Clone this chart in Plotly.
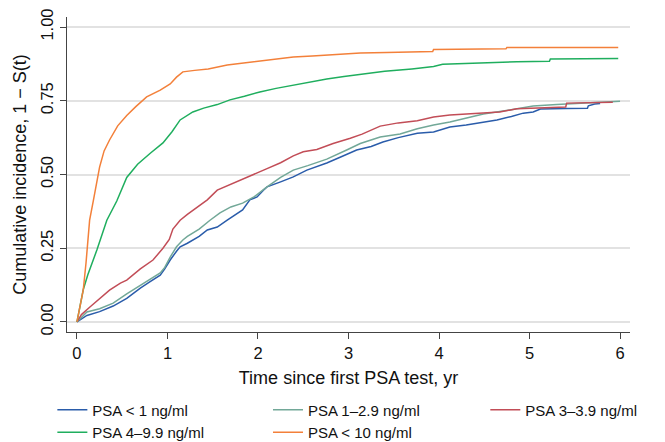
import plotly.graph_objects as go

# ---------------- data ----------------
names = ["PSA < 1 ng/ml", "PSA 1\u20132.9 ng/ml", "PSA 3\u20133.9 ng/ml",
         "PSA 4\u20139.9 ng/ml", "PSA < 10 ng/ml"]
colors = ["#2a5caa", "#72a898", "#c24d57", "#1fae5e", "#f3803a"]
legend_ids = ["legend", "legend2", "legend3", "legend", "legend2"]

t_lt1 = [0, 0.11, 0.25, 0.40, 0.55, 0.70, 0.80, 0.92, 0.97, 1.03,
         1.10, 1.14, 1.22, 1.35, 1.44, 1.55, 1.66, 1.76, 1.83, 1.91,
         1.99, 2.06, 2.10, 2.25, 2.39, 2.54, 2.76, 2.92, 3.09, 3.25,
         3.38, 3.55, 3.76, 3.94, 4.12, 4.30, 4.49, 4.64, 4.80, 4.93,
         5.04, 5.12, 5.40, 5.64, 5.65, 5.72, 5.78]
v_lt1 = [0, 0.022, 0.035, 0.054, 0.08, 0.115, 0.135, 0.159, 0.18, 0.21,
         0.24, 0.255, 0.267, 0.29, 0.312, 0.322, 0.345, 0.365, 0.38, 0.414,
         0.424, 0.447, 0.458, 0.475, 0.492, 0.515, 0.539, 0.56, 0.583, 0.595,
         0.61, 0.625, 0.64, 0.644, 0.661, 0.668, 0.678, 0.685, 0.697, 0.708,
         0.712, 0.722, 0.724, 0.725, 0.733, 0.739, 0.741]

t_1_29 = [0, 0.11, 0.25, 0.40, 0.55, 0.70, 0.80, 0.92, 0.97, 1.03,
          1.10, 1.17, 1.22, 1.35, 1.47, 1.58, 1.70, 1.83, 1.96, 2.10,
          2.25, 2.39, 2.55, 2.76, 2.98, 3.13, 3.35, 3.57, 3.76, 3.94,
          4.12, 4.30, 4.49, 4.78, 5.04, 5.30, 5.59, 6.00]
v_1_29 = [0, 0.034, 0.045, 0.064, 0.095, 0.125, 0.145, 0.166, 0.185, 0.22,
          0.255, 0.278, 0.29, 0.315, 0.345, 0.37, 0.39, 0.403, 0.425, 0.458,
          0.49, 0.515, 0.53, 0.552, 0.583, 0.605, 0.627, 0.637, 0.655, 0.668,
          0.678, 0.692, 0.705, 0.719, 0.732, 0.737, 0.741, 0.748]

t_3_39 = [0, 0.05, 0.14, 0.25, 0.36, 0.48, 0.55, 0.70, 0.84, 0.95,
          1.02, 1.06, 1.14, 1.22, 1.35, 1.44, 1.55, 1.68, 1.80, 1.95,
          2.10, 2.25, 2.39, 2.50, 2.65, 2.83, 3.02, 3.15, 3.35, 3.55,
          3.76, 3.94, 4.12, 4.40, 4.67, 4.86, 5.08, 5.40, 5.41, 5.92]
v_3_39 = [0, 0.025, 0.05, 0.08, 0.108, 0.132, 0.142, 0.18, 0.21, 0.25,
          0.28, 0.315, 0.345, 0.365, 0.395, 0.414, 0.447, 0.465, 0.48, 0.50,
          0.52, 0.54, 0.563, 0.577, 0.585, 0.605, 0.623, 0.637, 0.664, 0.675,
          0.682, 0.695, 0.702, 0.707, 0.712, 0.723, 0.726, 0.729, 0.742, 0.745]

t_4_99 = [0, 0.04, 0.07, 0.12, 0.22, 0.33, 0.44, 0.55, 0.67, 0.81,
          0.95, 1.05, 1.14, 1.28, 1.40, 1.55, 1.69, 1.85, 2.02, 2.20,
          2.39, 2.55, 2.76, 2.95, 3.13, 3.40, 3.70, 3.94, 4.04, 4.40,
          4.86, 5.22, 5.23, 5.98]
v_4_99 = [0, 0.06, 0.11, 0.16, 0.244, 0.345, 0.41, 0.49, 0.535, 0.572,
          0.607, 0.645, 0.685, 0.712, 0.725, 0.737, 0.753, 0.765, 0.78, 0.792,
          0.803, 0.813, 0.824, 0.832, 0.84, 0.85, 0.858, 0.866, 0.874, 0.878,
          0.882, 0.884, 0.892, 0.893]

t_ge10 = [0, 0.04, 0.07, 0.10, 0.12, 0.14, 0.18, 0.25, 0.30, 0.36,
          0.45, 0.55, 0.65, 0.77, 0.92, 1.03, 1.10, 1.17, 1.30, 1.45,
          1.66, 1.85, 2.02, 2.20, 2.39, 2.60, 2.83, 3.13, 3.42, 3.70,
          3.93, 3.94, 4.30, 4.74, 4.75, 5.20, 5.98]
v_ge10 = [0, 0.06, 0.11, 0.20, 0.28, 0.345, 0.41, 0.525, 0.58, 0.617,
          0.665, 0.70, 0.73, 0.763, 0.786, 0.807, 0.83, 0.848, 0.853, 0.858,
          0.871, 0.878, 0.885, 0.892, 0.898, 0.902, 0.907, 0.912, 0.914, 0.916,
          0.917, 0.924, 0.925, 0.926, 0.931, 0.931, 0.931]

x_ticks = [0, 1, 2, 3, 4, 5, 6]
y_ticks = [0, 0.25, 0.5, 0.75, 1.0]
y_ticktext = ["0.00", "0.25", "0.50", "0.75", "1.00"]

series = [(t_lt1, v_lt1), (t_1_29, v_1_29), (t_3_39, v_3_39),
          (t_4_99, v_4_99), (t_ge10, v_ge10)]

FONT = "Liberation Sans, Arial, Helvetica, sans-serif"

fig = go.Figure()
for name, col, lg, (tt, vv) in zip(names, colors, legend_ids, series):
    assert len(tt) == len(vv)
    fig.add_trace(go.Scatter(x=tt, y=vv, mode="lines", name=name,
                             legend=lg, line=dict(color=col, width=1.5)))

leg_common = dict(orientation="v", xanchor="left", y=-0.195, yanchor="top",
                  font=dict(size=15), tracegroupgap=0,
                  bgcolor="rgba(0,0,0,0)", itemwidth=30)

# the page body adds an 8px offset, so the figure is 8px smaller each way
fig.update_layout(
    width=657, height=434,
    margin=dict(l=59, r=35, t=9, b=110, autoexpand=False),
    plot_bgcolor="white", paper_bgcolor="white",
    font=dict(family=FONT, size=15, color="#111"),
    showlegend=True,
    legend=dict(x=-0.026, **leg_common),
    legend2=dict(x=0.357, **leg_common),
    legend3=dict(x=0.743, **leg_common),
)
fig.update_xaxes(range=[-0.11, 6.11], tickvals=x_ticks, ticks="outside",
                 ticklen=6, tickcolor="#444", tickwidth=1.3,
                 showline=True, linecolor="#444", linewidth=1.3,
                 showgrid=False, zeroline=False, automargin=False,
                 tickfont=dict(size=16.5),
                 title=dict(text="Time since first PSA test, yr",
                            standoff=10, font=dict(size=18)))
fig.update_yaxes(range=[-0.034, 1.034], tickvals=y_ticks, ticktext=y_ticktext,
                 tickangle=-90, ticks="outside", ticklen=6, tickcolor="#444",
                 tickwidth=1.3, showline=True, linecolor="#444", linewidth=1.3,
                 showgrid=True, gridcolor="#e2e2e2", gridwidth=1.5,
                 zeroline=False, automargin=False,
                 tickfont=dict(size=16.5),
                 title=dict(text="Cumulative incidence, 1 \u2212 S(t)",
                            standoff=6, font=dict(size=18)))

fig.write_html("out.html")
